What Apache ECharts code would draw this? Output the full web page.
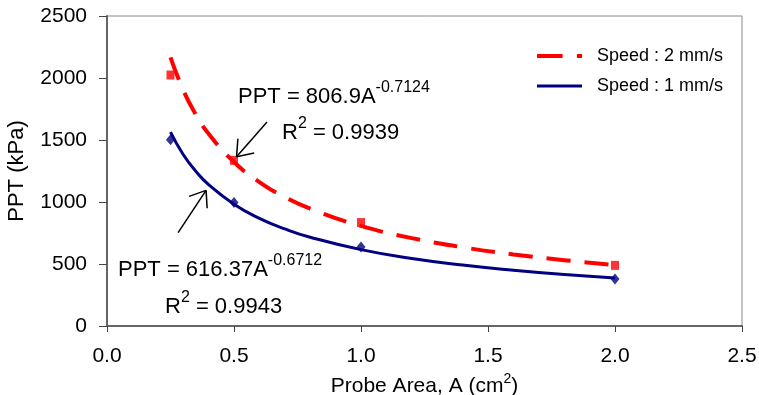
<!DOCTYPE html>
<html><head><meta charset="utf-8">
<script src="https://cdn.jsdelivr.net/npm/echarts@6/dist/echarts.min.js"></script>
<style>html,body{margin:0;padding:0;background:#fff}#c{width:759px;height:395px}</style>
</head><body><div id="c"></div>
<script>
// ---- data ----
const seriesNames = ['Speed : 2 mm/s', 'Speed : 1 mm/s'];
const probeArea = [0.25, 0.5, 1.0, 2.0];
const pptSpeed2 = [2024, 1336, 834, 489];
const pptSpeed1 = [1503, 995, 637, 379];
// fitted power-law trend lines
const fitArea  = [0.25, 0.3, 0.35, 0.4, 0.5, 0.6, 0.7, 0.8, 1.0, 1.2, 1.4, 1.6, 1.8, 2.0];
const fitSpeed2 = [2166, 1903, 1705, 1550, 1322, 1161, 1040, 946, 807, 709, 635, 577, 531, 492];
const fitSpeed1 = [1563, 1383, 1247, 1140, 982, 868, 783, 716, 616, 545, 492, 450, 415, 387];
// annotation arrows (data coordinates): [tail, tip]
const arrowSpeed2 = [[0.63, 1645], [0.51, 1365]];
const arrowSpeed1 = [[0.28, 753], [0.39, 1094]];
const eqSpeed2 = ['PPT = 806.9A{s|-0.7124}', 'R{s|2} = 0.9939'];
const eqSpeed1 = ['PPT = 616.37A{s|-0.6712}', 'R{s|2} = 0.9943'];

const F = '"Liberation Sans", Arial, sans-serif';
const RED = '#FF0000', NAVY = '#000080';
const chart = echarts.init(document.getElementById('c'), null, {renderer: 'canvas'});

const pairs = (xs, ys) => xs.map((x, i) => [x, ys[i]]);

const option = {
  animation: false,
  backgroundColor: '#fff',
  grid: {left: 107, right: 17, top: 16, bottom: 69, containLabel: false, outerBoundsMode: 'none',
         show: true, borderColor: '#888', borderWidth: 1},
  xAxis: {
    type: 'value', min: 0, max: 2.5, interval: 0.5,
    name: 'Probe Area, A (cm{s|2})', nameLocation: 'middle', nameGap: 37,
    nameTextStyle: {fontFamily: F, fontSize: 21, color: '#000', lineHeight: 28,
      rich: {s: {fontFamily: F, fontSize: 14, lineHeight: 13, verticalAlign: 'top', color: '#000'}}},
    axisLine: {onZero: false, lineStyle: {color: '#666', width: 2}},
    axisTick: {show: true, length: 6, lineStyle: {color: '#444', width: 1}},
    axisLabel: {margin: 20, fontFamily: F, fontSize: 21, color: '#000', formatter: v => v.toFixed(1)},
    splitLine: {show: false}
  },
  yAxis: {
    type: 'value', min: 0, max: 2500, interval: 500,
    name: 'PPT (kPa)', nameLocation: 'middle', nameGap: 79,
    nameTextStyle: {fontFamily: F, fontSize: 22, color: '#000'},
    axisLine: {show: true, lineStyle: {color: '#666', width: 2}},
    axisTick: {show: true, length: 8, lineStyle: {color: '#444', width: 1}},
    axisLabel: {margin: 20, fontFamily: F, fontSize: 21, color: '#000', formatter: v => String(v)},
    splitLine: {show: false}
  },
  legend: {
    orient: 'vertical', left: 537, top: 47, padding: 0, itemWidth: 45, itemHeight: 18, itemGap: 12,
    textStyle: {fontFamily: F, fontSize: 18, color: '#000'},
    formatter: n => '  ' + n,
    itemStyle: {borderWidth: 0},
    data: [
      {name: seriesNames[0], icon: 'path://M0,0H25V4H0ZM39,0H44V4H39Z'},
      {name: seriesNames[1], icon: 'path://M0,0H45V3H0Z'}
    ]
  },
  series: [
    {type: 'line', name: seriesNames[0], data: pairs(fitArea, fitSpeed2), smooth: true,
     showSymbol: false, symbol: 'none', itemStyle: {color: RED},
     lineStyle: {color: RED, width: 4, type: [24, 14], cap: 'butt'}, z: 2},
    {type: 'line', name: seriesNames[1], data: pairs(fitArea, fitSpeed1), smooth: true,
     showSymbol: false, symbol: 'none', itemStyle: {color: NAVY},
     lineStyle: {color: NAVY, width: 3}, z: 2},
    {type: 'scatter', name: 'pts2', data: pairs(probeArea, pptSpeed2), symbol: 'rect',
     symbolSize: [8, 9], itemStyle: {color: RED}, z: 3},
    {type: 'scatter', name: 'pts1', data: pairs(probeArea, pptSpeed1), symbol: 'diamond',
     symbolSize: [9, 11], itemStyle: {color: NAVY}, z: 3}
  ]
};
chart.setOption(option);

function eqText(str, x, y) {
  return {type: 'text', z: 10, style: {
    text: str, x: x, y: y, align: 'left', verticalAlign: 'middle',
    fontFamily: F, fontSize: 22, lineHeight: 34, fill: '#000',
    rich: {s: {fontFamily: F, fontSize: 16, lineHeight: 16, verticalAlign: 'top', fill: '#000'}}
  }};
}
function arrow(pair) {
  const t = chart.convertToPixel({gridIndex: 0}, pair[0]);
  const p = chart.convertToPixel({gridIndex: 0}, pair[1]);
  const ang = Math.atan2(t[1] - p[1], t[0] - p[0]);
  const L = 18, da = 37 * Math.PI / 180;
  const st = {stroke: '#000', lineWidth: 1.5};
  const els = [{type: 'line', z: 10, shape: {x1: t[0], y1: t[1], x2: p[0], y2: p[1]}, style: st}];
  [-da, da].forEach(d => {
    els.push({type: 'line', z: 10, shape: {x1: p[0], y1: p[1],
      x2: p[0] + L * Math.cos(ang + d), y2: p[1] + L * Math.sin(ang + d)}, style: st});
  });
  return els;
}
chart.setOption({graphic: [
  eqText(eqSpeed2[0], 238, 97), eqText(eqSpeed2[1], 282, 133),
  eqText(eqSpeed1[0], 118, 270), eqText(eqSpeed1[1], 165, 307),
  ...arrow(arrowSpeed2), ...arrow(arrowSpeed1)
]});
</script></body></html>
